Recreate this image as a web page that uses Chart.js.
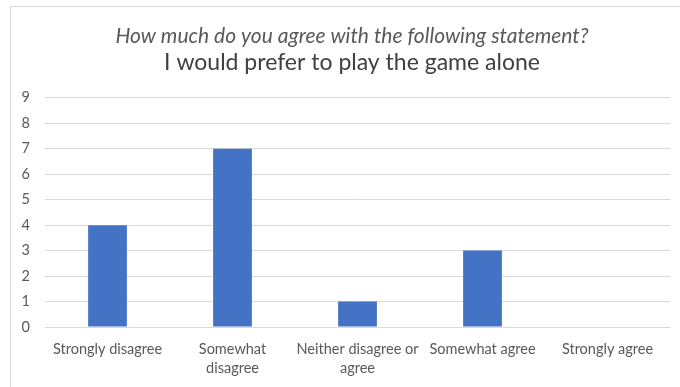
<!DOCTYPE html>
<html>
<head>
<meta charset="utf-8">
<script src="https://cdn.jsdelivr.net/npm/chart.js@4/dist/chart.umd.min.js"></script>
<style>
  body { margin: 0; background: #fff; }
  #wrap { width: 680px; height: 387px; }
</style>
</head>
<body>
<div id="wrap"><canvas id="myChart" width="680" height="387"></canvas></div>
<script>
// answers on the x axis (multi line labels as in the sheet)
var answers = [
  "Strongly disagree",
  ["Somewhat", "disagree"],
  ["Neither disagree or", "agree"],
  "Somewhat agree",
  "Strongly agree"
];
// number of responses
var responses = [4, 7, 1, 3, 0];
var question = "How much do you agree with the following statement?";
var statement = "I would prefer to play the game alone";

var grey = "#595959";
var fontName = "Lato, 'Liberation Sans', sans-serif";

// light frame like the excel chart border
var framePlugin = {
  id: "frame",
  beforeDraw: function (chart) {
    var ctx = chart.ctx;
    ctx.save();
    ctx.fillStyle = "#fff";
    ctx.fillRect(0, 0, chart.width, chart.height);
    ctx.strokeStyle = "#d9d9d9";
    ctx.lineWidth = 1;
    ctx.strokeRect(10.5, 6.5, chart.width, chart.height);
    ctx.restore();
  },
  // titles sit in the middle of the frame, not of the canvas
  afterLayout: function (chart) {
    chart.boxes.forEach(function (box) {
      if (box.position === "top" && box.options && box.options.text) {
        box.left += 34;
      }
    });
  }
};

var canvas = document.getElementById("myChart");
var myChart = new Chart(canvas, {
  type: "bar",
  data: {
    labels: answers,
    datasets: [{
      data: responses,
      backgroundColor: "#4472C4",
      barPercentage: 0.31,
      categoryPercentage: 1.0
    }]
  },
  options: {
    responsive: false,
    animation: false,
    layout: { padding: { left: 0, right: 10, top: 0, bottom: 0 } },
    plugins: {
      legend: { display: false },
      tooltip: { enabled: false },
      title: {
        display: true,
        text: question,
        color: grey,
        font: { family: fontName, size: 21, style: "italic", weight: "normal" },
        padding: { top: 24, bottom: 0 }
      },
      subtitle: {
        display: true,
        text: statement,
        color: "#404040",
        font: { family: fontName, size: 23, weight: "normal" },
        padding: { top: 0, bottom: 21 }
      }
    },
    scales: {
      x: {
        grid: { display: false },
        border: { display: false },
        ticks: {
          color: grey,
          font: { family: fontName, size: 14.5, lineHeight: 1.3 },
          padding: 5,
          maxRotation: 0,
          autoSkip: false
        },
        afterFit: function (scale) { scale.height = 60; }
      },
      y: {
        min: 0,
        max: 9,
        grid: { color: "#d9d9d9", drawTicks: false },
        border: { display: false },
        ticks: {
          stepSize: 1,
          color: grey,
          font: { family: fontName, size: 14.5 },
          padding: 15
        },
        afterFit: function (scale) { scale.width = 45; }
      }
    }
  },
  plugins: [framePlugin]
});
</script>
</body>
</html>
